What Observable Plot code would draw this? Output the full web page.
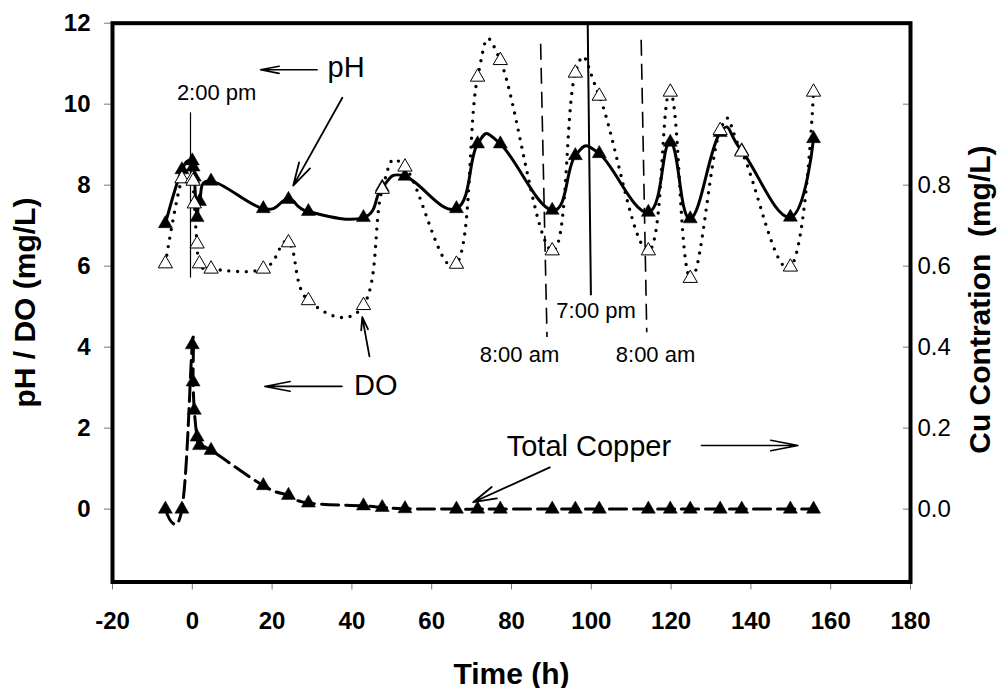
<!DOCTYPE html>
<html>
<head>
<meta charset="utf-8">
<script src="https://cdn.jsdelivr.net/npm/d3@7"></script>
<script src="https://cdn.jsdelivr.net/npm/@observablehq/plot@0.6"></script>
<style>
  html, body { margin: 0; padding: 0; background: #fff; }
  svg { display: block; }
</style>
</head>
<body>
<div id="chart"></div>
<script>
// ---- data ----
const hours = [-6.75, -2.6, 0, 0.2, 0.5, 1.2, 1.8, 4.7, 17.8, 24.1, 29.1, 42.9, 47.6, 53.3,
  66.2, 71.5, 77.2, 90.2, 96.0, 102.0, 114.3, 119.8, 124.8, 132.3, 137.7, 149.9, 155.7];
const pH = [7.05, 8.38, 8.6, 8.45, 8.2, 7.2, 7.6, 8.1, 7.42, 7.65, 7.35, 7.2, 7.95, 8.22,
  7.42, 9.02, 9.02, 7.38, 8.73, 8.78, 7.33, 9.06, 7.17, 9.3, 8.85, 7.21, 9.15];
const DO = [6.06, 8.16, 8.16, 8.1, 7.54, 6.55, 6.06, 5.93, 5.93, 6.58, 5.15, 5.03, 7.9, 8.45,
  6.05, 10.67, 11.08, 6.38, 10.77, 10.2, 6.38, 10.3, 5.7, 9.35, 8.82, 5.98, 10.3];
const copper = [0, 0, 0.406, 0.314, 0.244, 0.178, 0.157, 0.145, 0.058, 0.034, 0.015, 0.008, 0.004, 0.001,
  0, 0, 0, 0, 0, 0, 0, 0, 0, 0, 0, 0, 0]; // mg/L (right axis)

const xTicks = [-20, 0, 20, 40, 60, 80, 100, 120, 140, 160, 180];
const leftTicks = [0, 2, 4, 6, 8, 10, 12];
const cuTicks = [0, 0.2, 0.4, 0.6, 0.8, 1.0];
const cuTickLabels = ["0.0", "0.2", "0.4", "0.6", "0.8", ""];
const cuToLeft = 10; // 0.1 mg/L Cu on the right axis = 1 unit on the left axis

const xTitle = "Time (h)";
const yTitle = "pH / DO (mg/L)";
const y2Title = "Cu Contration\u00a0 (mg/L)";

// annotations (data coordinates)
const timeLabels = [
  {label: "2:00 pm", x: 6.1, y: 10.11},
  {label: "7:00 pm", x: 101.2, y: 4.72},
  {label: "8:00 am", x: 82.0, y: 3.63},
  {label: "8:00 am", x: 116.1, y: 3.63}
];
const seriesLabels = [
  {label: "pH", x: 33.9, y: 10.66},
  {label: "DO", x: 40.55, y: 2.81},
  {label: "Total Copper", x: 78.8, y: 1.32}
];
const solidMarkers = [
  {x1: -0.45, y1: 9.8, x2: -0.45, y2: 5.72},
  {x1: 99.1, y1: 12, x2: 99.9, y2: 5.28}
];
const dashedMarkers = [
  {x1: 87.3, y1: 11.49, x2: 88.9, y2: 4.25},
  {x1: 112.5, y1: 11.59, x2: 113.9, y2: 4.37}
];
const flatArrows = [
  {x1: 31.3, y1: 10.85, x2: 17.1, y2: 10.85},
  {x1: 37.5, y1: 3.03, x2: 18.2, y2: 3.03},
  {x1: 127.6, y1: 1.57, x2: 151.8, y2: 1.57}
];
const slantArrows = [
  {x1: 37.6, y1: 10.16, x2: 25.3, y2: 7.99},
  {x1: 44.4, y1: 3.77, x2: 42.6, y2: 4.74},
  {x1: 89.6, y1: 1.03, x2: 70.4, y2: 0.17}
];

// ---- build rows ----
const rows = hours.map((t, i) => ({t, pH: pH[i], DO: DO[i], cu: copper[i] * cuToLeft}));
const font = "'Liberation Sans', Arial, Helvetica, sans-serif";
const smooth = d3.curveCardinal.tension(-0.25); // spreadsheet-style smoothed line
const cuLabel = d => {
  const i = cuTicks.findIndex(v => Math.abs(v * cuToLeft - d) < 1e-9);
  return i >= 0 ? cuTickLabels[i] : "";
};

const chart = Plot.plot({
  width: 998,
  height: 688,
  marginLeft: 112,
  marginRight: 88,
  marginTop: 22.7,
  marginBottom: 106.5,
  style: {fontFamily: font, background: "white", color: "black", overflow: "visible"},
  x: {domain: [-20, 180]},
  y: {domain: [-1.8, 12]},
  marks: [
    Plot.axisX({ticks: xTicks, tickSize: 8, tickPadding: 21.5, fontSize: 24, fontWeight: "bold",
      stroke: "#777", fill: "black", tickFormat: d => String(d), label: null}),
    Plot.axisY({anchor: "left", ticks: leftTicks, tickSize: 8, tickPadding: 14, fontSize: 24, fontWeight: "bold",
      stroke: "#777", fill: "black", tickFormat: d => String(d), label: null}),
    Plot.axisY({anchor: "right", ticks: cuTicks.map(v => v * cuToLeft), tickSize: 8, dx: -8,
      stroke: "#777", tickFormat: () => "", label: null}),
    Plot.axisY({anchor: "right", ticks: cuTicks.map(v => v * cuToLeft), tickSize: 0, tickPadding: 7,
      fontSize: 24, fill: "black", tickFormat: cuLabel, label: null}),

    // time reference lines
    Plot.link(solidMarkers.slice(0, 1), {x1: "x1", y1: "y1", x2: "x2", y2: "y2", stroke: "black", strokeWidth: 1.2}),
    Plot.link(solidMarkers.slice(1), {x1: "x1", y1: "y1", x2: "x2", y2: "y2", stroke: "black", strokeWidth: 2}),
    Plot.link(dashedMarkers, {x1: "x1", y1: "y1", x2: "x2", y2: "y2", stroke: "black", strokeWidth: 1.6, strokeDasharray: "16,8"}),

    // pH
    Plot.line(rows, {x: "t", y: "pH", curve: smooth, stroke: "black", strokeWidth: 3}),
    Plot.dot(rows, {x: "t", y: "pH", symbol: "triangle", r: 5.2, fill: "black", stroke: "black", strokeWidth: 0.5}),
    // DO
    Plot.line(rows, {x: "t", y: "DO", curve: smooth, stroke: "black", strokeWidth: 3.4,
      strokeDasharray: "0,8.7", strokeLinecap: "round"}),
    Plot.dot(rows, {x: "t", y: "DO", symbol: "triangle", r: 5.3, fill: "white", stroke: "black", strokeWidth: 1}),
    // Copper
    Plot.line(rows, {x: "t", y: "cu", curve: smooth, stroke: "black", strokeWidth: 3, strokeDasharray: "17,7"}),
    Plot.dot(rows, {x: "t", y: "cu", symbol: "triangle", r: 5.2, fill: "black", stroke: "black", strokeWidth: 0.5}),

    // arrows
    Plot.arrow(flatArrows, {x1: "x1", y1: "y1", x2: "x2", y2: "y2", stroke: "black", strokeWidth: 1.6,
      headLength: 26, headAngle: 22}),
    Plot.arrow(slantArrows, {x1: "x1", y1: "y1", x2: "x2", y2: "y2", stroke: "black", strokeWidth: 1.8,
      headLength: 20, headAngle: 30}),

    // annotation text
    Plot.text(timeLabels, {x: "x", y: "y", text: "label", fontSize: 22, textAnchor: "middle",
      lineAnchor: "bottom", fill: "black"}),
    Plot.text(seriesLabels, {x: "x", y: "y", text: "label", fontSize: 29, textAnchor: "start",
      lineAnchor: "bottom", fill: "black"}),

    // axis titles
    Plot.text([yTitle], {frameAnchor: "left", dx: -77.5, rotate: -90, lineAnchor: "bottom",
      textAnchor: "middle", fontSize: 30, fontWeight: "bold", fill: "black"}),
    Plot.text([y2Title], {frameAnchor: "right", dx: 79.5, dy: -3, rotate: -90, lineAnchor: "bottom",
      textAnchor: "middle", fontSize: 30, fontWeight: "bold", fill: "black"}),
    Plot.text([xTitle], {frameAnchor: "bottom", dy: 101.8, lineAnchor: "bottom",
      textAnchor: "middle", fontSize: 30, fontWeight: "bold", fill: "black"}),

    Plot.frame({stroke: "black", strokeWidth: 4})
  ]
});
document.getElementById("chart").appendChild(chart);
</script>
</body>
</html>
